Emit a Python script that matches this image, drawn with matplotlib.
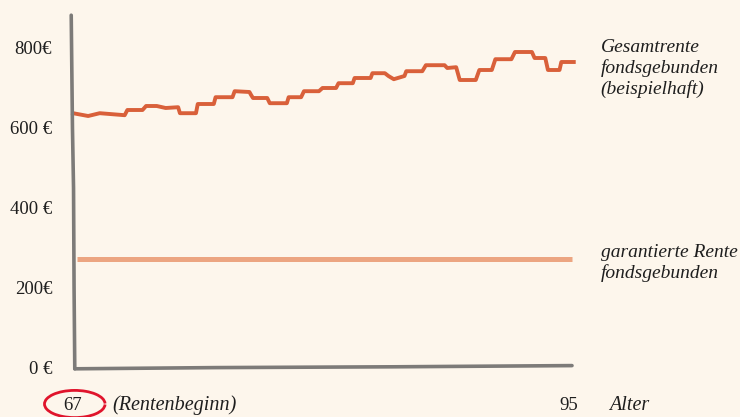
import matplotlib
matplotlib.use("Agg")
import matplotlib.pyplot as plt
from matplotlib.patches import Arc

# ---- data ----
ages_total = [67.0, 67.85, 68.5, 69.9, 70.05, 70.9, 71.1, 71.7, 72.2, 72.9, 73.0, 73.9,
              74.0, 74.9, 75.0, 75.95, 76.07, 76.9, 77.0, 77.1, 77.9, 78.04, 79.0, 79.1,
              79.8, 79.96, 80.8, 81.0, 81.76, 81.9, 82.7, 82.8, 83.7, 83.8, 84.5, 84.7,
              85.0, 85.6, 85.7, 86.6, 86.8, 87.85, 88.0, 88.5, 88.7, 89.6, 89.8, 90.5,
              90.7, 91.6, 91.8, 92.75, 92.9, 93.5, 93.65, 94.3, 94.4, 95.1]
rente_total = [637, 630, 637, 632, 645, 645, 655, 655, 650, 652, 637, 637,
               660, 660, 677, 677, 692, 690, 682, 675, 675, 662, 662, 677,
               677, 692, 692, 700, 700, 712, 712, 725, 725, 737, 737, 730,
               722, 730, 742, 742, 757, 757, 750, 752, 720, 720, 745, 745,
               772, 772, 790, 790, 775, 775, 745, 745, 765, 765]
ages_garantie = [67.2, 95.0]
rente_garantie = [273, 273]

yticks = [0, 200, 400, 600, 800]
ytick_labels = ["0 €", "200€", "400 €", "600 €", "800€"]
age_start, age_end = 67, 95

BG = "#fdf6ec"
GREY = "#7d7b79"
ORANGE = "#d9603a"
LIGHT = "#eca581"
TXT = "#1e1e1e"
SERIF = ["Liberation Serif", "DejaVu Serif"]

fig = plt.figure(figsize=(7.4, 4.17), dpi=100, facecolor=BG)
# axes: x 73..572 px, y 48..368 px (from top)
ax = fig.add_axes([73/740, (417-368)/417, (572-73)/740, (368-48)/417])
ax.set_facecolor(BG)
ax.set_xlim(age_start, age_end)
ax.set_ylim(0, 800)
for s in ax.spines.values():
    s.set_visible(False)

# hand-drawn axes
ax.plot([66.9, 66.97, 67.03, 67.06, 67.1], [882, 600, 450, 200, -2], color=GREY, lw=2.6,
        solid_capstyle="round", clip_on=False, zorder=3)
ax.plot([67.1, 75, 85, 95], [-2, 1, 3, 6], color=GREY, lw=2.6,
        solid_capstyle="round", clip_on=False, zorder=3)

ax.plot(ages_garantie, rente_garantie, color=LIGHT, lw=3.6, solid_capstyle="butt",
        clip_on=False, zorder=2)
ax.plot(ages_total, rente_total, color=ORANGE, lw=2.8, solid_joinstyle="round",
        clip_on=False, zorder=2)

ax.set_xticks([])
ax.set_yticks(yticks)
ax.set_yticklabels(ytick_labels, fontfamily=SERIF, fontsize=13.5, color=TXT)
ax.tick_params(axis="y", length=0, pad=15)

# x labels
ylab = -93
ax.text(67.0, ylab, "67", ha="center", va="center", fontsize=13.5, family=SERIF,
        color=TXT, clip_on=False)
ax.text(69.2, ylab, "(Rentenbeginn)", ha="left", va="center", fontsize=14.5,
        family=SERIF, style="italic", color=TXT, clip_on=False)
ax.text(94.8, ylab, "95", ha="center", va="center", fontsize=13.5, family=SERIF,
        color=TXT, clip_on=False)
ax.text(97.1, ylab, "Alter", ha="left", va="center", fontsize=14.5, family=SERIF,
        style="italic", color=TXT, clip_on=False)

arc = Arc((67.1, -90), 3.4, 68, theta1=35, theta2=325, color="#e0142c", lw=2.0,
          clip_on=False)
ax.add_patch(arc)

# series labels
ax.text(96.6, 822, "Gesamtrente\nfondsgebunden\n(beispielhaft)", ha="left", va="top",
        fontsize=14, family=SERIF, style="italic", color=TXT, linespacing=1.2,
        clip_on=False)
ax.text(96.6, 310, "garantierte Rente\nfondsgebunden", ha="left", va="top",
        fontsize=14, family=SERIF, style="italic", color=TXT, linespacing=1.2,
        clip_on=False)

fig.savefig("out.png", dpi=100, facecolor=BG)
